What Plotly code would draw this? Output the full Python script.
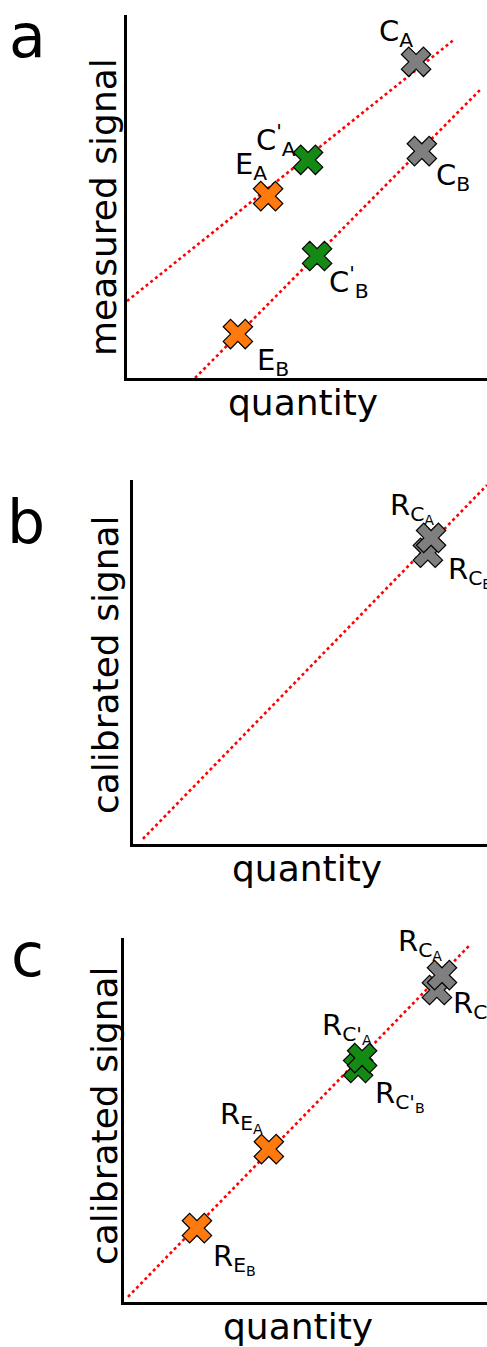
import plotly.graph_objects as go

# ---------------- data ----------------
# panel a: measured signal vs quantity
a_names = ["C<sub>A</sub>", "C<sub>B</sub>", "C<sup>'</sup><sub>A</sub>", "E<sub>A</sub>", "C<sup>'</sup><sub>B</sub>", "E<sub>B</sub>"]
a_x = [8.03, 8.19, 5.03, 3.92, 5.28, 3.08]
a_y = [8.71, 6.25, 6.01, 5.01, 3.36, 1.21]
a_col = ["gray", "gray", "green", "orange", "green", "orange"]
a_shift_x = [-20, 31, -32, -17, 32, 35]
a_shift_y = [29, -26, 20, 30, -26, -28]
lineA_x = [0.0, 9.11]
lineA_y = [2.12, 9.34]
lineB_x = [1.89, 9.86]
lineB_y = [0.0, 7.99]

# panel b: calibrated signal (only calibrants)
b_names = ["R<sub>C<sub>B</sub></sub>", "R<sub>C<sub>A</sub></sub>"]
b_x = [8.33, 8.42]
b_y = [8.00, 8.41]
b_col = ["gray", "gray"]
b_shift_x = [42, -19]
b_shift_y = [-19, 30]
lineb_x = [0.28, 10.0]
lineb_y = [0.14, 9.86]

# panel c: calibrated signal (all)
c_names = ["R<sub>C<sub>B</sub></sub>", "R<sub>C<sub>A</sub></sub>",
           "R<sub>C'<sub>B</sub></sub>", "R<sub>C'<sub>A</sub></sub>",
           "R<sub>E<sub>A</sub></sub>", "R<sub>E<sub>B</sub></sub>"]
c_x = [8.62, 8.76, 6.45, 6.56, 3.99, 2.01]
c_y = [8.57, 8.98, 6.43, 6.70, 4.20, 2.03]
c_col = ["gray", "gray", "green", "green", "orange", "orange"]
c_shift_x = [38, -22, 42, -15, -27, 38]
c_shift_y = [-16, 31, -28, 30, 32, -31]
linec_x = [0.11, 9.53]
linec_y = [0.14, 9.81]

panel_letters = ["a", "b", "c"]
y_titles = ["measured signal", "calibrated signal", "calibrated signal"]
x_title = "quantity"

# ---------------- style ----------------
COLORS = {"gray": "#7f7f7f", "green": "#148a14", "orange": "#ff7a0e"}
FONT = "DejaVu Sans"
W, H = 487, 1347

fig = go.Figure()

def add_line(xs, ys, ax):
    fig.add_trace(go.Scatter(x=xs, y=ys, mode="lines", xaxis="x" + ax, yaxis="y" + ax,
                             line=dict(color="red", width=2.6, dash="dot"),
                             hoverinfo="skip", showlegend=False))

def add_points(xs, ys, cols, names, sx, sy, ax):
    for x, y, c, n, dx, dy in zip(xs, ys, cols, names, sx, sy):
        fig.add_trace(go.Scatter(x=[x], y=[y], mode="markers", xaxis="x" + ax, yaxis="y" + ax,
                                 marker=dict(symbol="x", size=26, color=COLORS[c],
                                             line=dict(color="black", width=1.2)),
                                 showlegend=False, name=n))
        fig.add_annotation(x=x, y=y, xref="x" + ax, yref="y" + ax, text=n, showarrow=False,
                           xshift=dx, yshift=dy, xanchor="center", yanchor="middle",
                           font=dict(family=FONT, size=29, color="black"))

add_line(lineA_x, lineA_y, "")
add_line(lineB_x, lineB_y, "")
add_points(a_x, a_y, a_col, a_names, a_shift_x, a_shift_y, "")
add_line(lineb_x, lineb_y, "2")
add_points(b_x, b_y, b_col, b_names, b_shift_x, b_shift_y, "2")
add_line(linec_x, linec_y, "3")
add_points(c_x, c_y, c_col, c_names, c_shift_x, c_shift_y, "3")

def px_x(p):
    return p / W

def px_y(p):
    return (H - p) / H

# panel pixel boxes: (left, top, bottom)
boxes = [(127, 15, 378), (133, 480, 844), (124, 938, 1302)]

axis_common = dict(range=[0, 10], showgrid=False, zeroline=False, showticklabels=False,
                   ticks="", showline=True, linecolor="black", linewidth=3, fixedrange=True)
layout_axes = {}
for i, (l, t, b) in enumerate(boxes):
    suf = "" if i == 0 else str(i + 1)
    layout_axes["xaxis" + suf] = dict(axis_common, domain=[px_x(l), 1.0],
                                      anchor="y" + suf)
    layout_axes["yaxis" + suf] = dict(axis_common, domain=[px_y(b), px_y(t)],
                                      anchor="x" + suf)
fig.update_layout(**layout_axes)

# panel letters and axis titles
letter_pos = [(27, 36), (26, 522), (27, 955)]
ytitle_pos = [(103, 207), (105, 665), (104, 1116)]
xtitle_pos = [(303, 402), (307, 868), (298, 1326)]
for i in range(3):
    lx, ly = letter_pos[i]
    fig.add_annotation(x=px_x(lx), y=px_y(ly), xref="paper", yref="paper", text=panel_letters[i],
                       showarrow=False, xanchor="center", yanchor="middle",
                       font=dict(family=FONT, size=60, color="black"))
    tx, ty = ytitle_pos[i]
    fig.add_annotation(x=px_x(tx), y=px_y(ty), xref="paper", yref="paper", text=y_titles[i],
                       showarrow=False, xanchor="center", yanchor="middle", textangle=-90,
                       font=dict(family=FONT, size=36, color="black"))
    qx, qy = xtitle_pos[i]
    fig.add_annotation(x=px_x(qx), y=px_y(qy), xref="paper", yref="paper", text=x_title,
                       showarrow=False, xanchor="center", yanchor="middle",
                       font=dict(family=FONT, size=36, color="black"))

fig.update_layout(width=W, height=H, margin=dict(l=0, r=0, t=0, b=0),
                  paper_bgcolor="white", plot_bgcolor="white", showlegend=False)

fig.write_html("out.html", config={"displayModeBar": False},
               post_script="document.body.style.margin='0';document.body.style.overflow='hidden';")
